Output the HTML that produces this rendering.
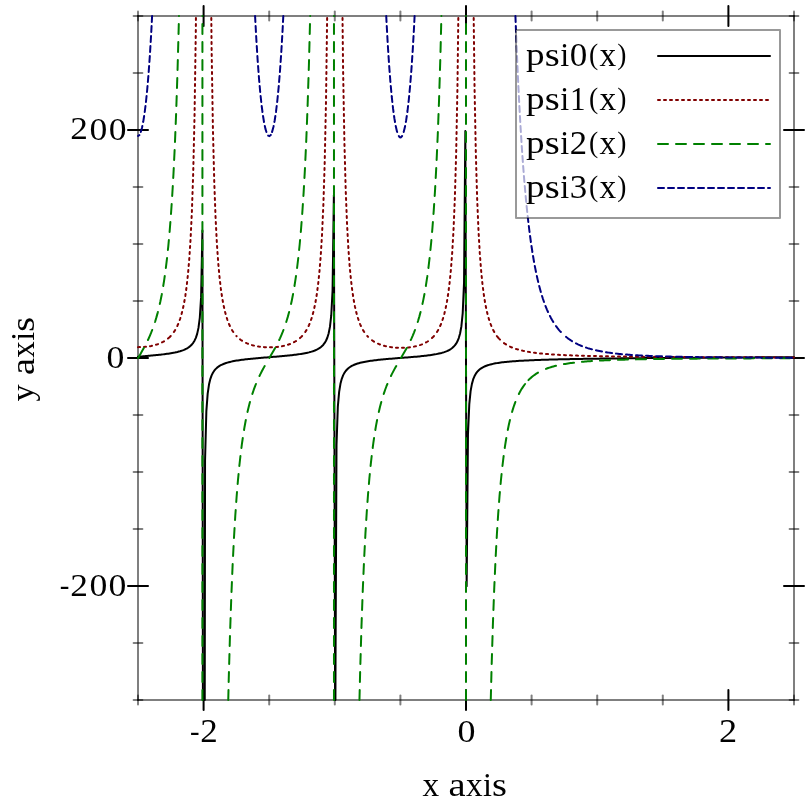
<!DOCTYPE html>
<html><head><meta charset="utf-8"><style>
html,body{margin:0;padding:0;background:#fff;}
svg{display:block;}
text{font-family:"Liberation Serif", serif;}
</style></head><body>
<svg width="812" height="812" viewBox="0 0 812 812">
<rect width="812" height="812" fill="#ffffff"/>
<g fill="none" stroke-width="2" stroke-linecap="round">
<line x1="138.0" y1="16.0" x2="794.0" y2="16.0" stroke="rgba(0,0,0,0.5)"/>
<line x1="138.0" y1="700.0" x2="794.0" y2="700.0" stroke="rgba(0,0,0,0.5)"/>
<line x1="138.0" y1="16.0" x2="138.0" y2="700.0" stroke="rgba(0,0,0,0.5)"/>
<line x1="794.0" y1="16.0" x2="794.0" y2="700.0" stroke="rgba(0,0,0,0.5)"/>
<line x1="138.00" y1="11.60" x2="138.00" y2="20.40" stroke="rgba(0,0,0,0.5)"/>
<line x1="138.00" y1="695.60" x2="138.00" y2="704.40" stroke="rgba(0,0,0,0.5)"/>
<line x1="269.20" y1="11.60" x2="269.20" y2="20.40" stroke="rgba(0,0,0,0.5)"/>
<line x1="269.20" y1="695.60" x2="269.20" y2="704.40" stroke="rgba(0,0,0,0.5)"/>
<line x1="334.80" y1="11.60" x2="334.80" y2="20.40" stroke="rgba(0,0,0,0.5)"/>
<line x1="334.80" y1="695.60" x2="334.80" y2="704.40" stroke="rgba(0,0,0,0.5)"/>
<line x1="400.40" y1="11.60" x2="400.40" y2="20.40" stroke="rgba(0,0,0,0.5)"/>
<line x1="400.40" y1="695.60" x2="400.40" y2="704.40" stroke="rgba(0,0,0,0.5)"/>
<line x1="531.60" y1="11.60" x2="531.60" y2="20.40" stroke="rgba(0,0,0,0.5)"/>
<line x1="531.60" y1="695.60" x2="531.60" y2="704.40" stroke="rgba(0,0,0,0.5)"/>
<line x1="597.20" y1="11.60" x2="597.20" y2="20.40" stroke="rgba(0,0,0,0.5)"/>
<line x1="597.20" y1="695.60" x2="597.20" y2="704.40" stroke="rgba(0,0,0,0.5)"/>
<line x1="662.80" y1="11.60" x2="662.80" y2="20.40" stroke="rgba(0,0,0,0.5)"/>
<line x1="662.80" y1="695.60" x2="662.80" y2="704.40" stroke="rgba(0,0,0,0.5)"/>
<line x1="794.00" y1="11.60" x2="794.00" y2="20.40" stroke="rgba(0,0,0,0.5)"/>
<line x1="794.00" y1="695.60" x2="794.00" y2="704.40" stroke="rgba(0,0,0,0.5)"/>
<line x1="133.60" y1="700.00" x2="142.40" y2="700.00" stroke="rgba(0,0,0,0.5)"/>
<line x1="789.60" y1="700.00" x2="798.40" y2="700.00" stroke="rgba(0,0,0,0.5)"/>
<line x1="133.60" y1="643.00" x2="142.40" y2="643.00" stroke="rgba(0,0,0,0.5)"/>
<line x1="789.60" y1="643.00" x2="798.40" y2="643.00" stroke="rgba(0,0,0,0.5)"/>
<line x1="133.60" y1="529.00" x2="142.40" y2="529.00" stroke="rgba(0,0,0,0.5)"/>
<line x1="789.60" y1="529.00" x2="798.40" y2="529.00" stroke="rgba(0,0,0,0.5)"/>
<line x1="133.60" y1="472.00" x2="142.40" y2="472.00" stroke="rgba(0,0,0,0.5)"/>
<line x1="789.60" y1="472.00" x2="798.40" y2="472.00" stroke="rgba(0,0,0,0.5)"/>
<line x1="133.60" y1="415.00" x2="142.40" y2="415.00" stroke="rgba(0,0,0,0.5)"/>
<line x1="789.60" y1="415.00" x2="798.40" y2="415.00" stroke="rgba(0,0,0,0.5)"/>
<line x1="133.60" y1="301.00" x2="142.40" y2="301.00" stroke="rgba(0,0,0,0.5)"/>
<line x1="789.60" y1="301.00" x2="798.40" y2="301.00" stroke="rgba(0,0,0,0.5)"/>
<line x1="133.60" y1="244.00" x2="142.40" y2="244.00" stroke="rgba(0,0,0,0.5)"/>
<line x1="789.60" y1="244.00" x2="798.40" y2="244.00" stroke="rgba(0,0,0,0.5)"/>
<line x1="133.60" y1="187.00" x2="142.40" y2="187.00" stroke="rgba(0,0,0,0.5)"/>
<line x1="789.60" y1="187.00" x2="798.40" y2="187.00" stroke="rgba(0,0,0,0.5)"/>
<line x1="133.60" y1="73.00" x2="142.40" y2="73.00" stroke="rgba(0,0,0,0.5)"/>
<line x1="789.60" y1="73.00" x2="798.40" y2="73.00" stroke="rgba(0,0,0,0.5)"/>
<line x1="133.60" y1="16.00" x2="142.40" y2="16.00" stroke="rgba(0,0,0,0.5)"/>
<line x1="789.60" y1="16.00" x2="798.40" y2="16.00" stroke="rgba(0,0,0,0.5)"/>
<line x1="203.60" y1="6.00" x2="203.60" y2="26.00" stroke="#000000"/>
<line x1="203.60" y1="690.00" x2="203.60" y2="710.00" stroke="#000000"/>
<line x1="466.00" y1="6.00" x2="466.00" y2="26.00" stroke="#000000"/>
<line x1="466.00" y1="690.00" x2="466.00" y2="710.00" stroke="#000000"/>
<line x1="728.40" y1="6.00" x2="728.40" y2="26.00" stroke="#000000"/>
<line x1="728.40" y1="690.00" x2="728.40" y2="710.00" stroke="#000000"/>
<line x1="128.00" y1="586.00" x2="148.00" y2="586.00" stroke="#000000"/>
<line x1="784.00" y1="586.00" x2="804.00" y2="586.00" stroke="#000000"/>
<line x1="128.00" y1="358.00" x2="148.00" y2="358.00" stroke="#000000"/>
<line x1="784.00" y1="358.00" x2="804.00" y2="358.00" stroke="#000000"/>
<line x1="128.00" y1="130.00" x2="148.00" y2="130.00" stroke="#000000"/>
<line x1="784.00" y1="130.00" x2="804.00" y2="130.00" stroke="#000000"/>
</g>
<g fill="none" stroke-width="2" stroke-linecap="round" stroke-linejoin="round">
<path d="M138.00 356.74 L139.31 356.63 L140.63 356.52 L141.94 356.41 L143.26 356.30 L144.57 356.19 L145.89 356.08 L147.20 355.97 L148.52 355.85 L149.83 355.73 L151.15 355.61 L152.46 355.49 L153.78 355.37 L155.09 355.24 L156.40 355.11 L157.72 354.97 L159.03 354.83 L160.35 354.69 L161.66 354.53 L162.98 354.38 L164.29 354.21 L165.61 354.04 L166.92 353.86 L168.24 353.67 L169.55 353.46 L170.87 353.25 L172.18 353.02 L173.49 352.77 L174.81 352.51 L176.12 352.22 L177.44 351.91 L178.75 351.57 L180.07 351.20 L181.38 350.79 L182.70 350.33 L184.01 349.82 L185.33 349.23 L186.64 348.56 L187.96 347.79 L189.27 346.87 L190.59 345.79 L191.90 344.46 L193.21 342.81 L194.53 340.69 L195.84 337.86 L197.16 333.89 L198.47 327.90 L199.79 317.81 L201.10 297.13 L202.42 230.56 L202.91 700.00" stroke="#000000"/>
<path d="M204.74 700.00 L205.05 460.34 L206.36 411.06 L207.68 393.55 L208.99 384.56 L210.30 379.09 L211.62 375.40 L212.93 372.74 L214.25 370.73 L215.56 369.15 L216.88 367.88 L218.19 366.83 L219.51 365.95 L220.82 365.20 L222.14 364.55 L223.45 363.98 L224.77 363.47 L226.08 363.03 L227.39 362.62 L228.71 362.26 L230.02 361.93 L231.34 361.62 L232.65 361.34 L233.97 361.08 L235.28 360.84 L236.60 360.61 L237.91 360.40 L239.23 360.20 L240.54 360.02 L241.86 359.84 L243.17 359.67 L244.48 359.50 L245.80 359.35 L247.11 359.20 L248.43 359.06 L249.74 358.92 L251.06 358.79 L252.37 358.66 L253.69 358.53 L255.00 358.41 L256.32 358.29 L257.63 358.17 L258.95 358.05 L260.26 357.94 L261.58 357.83 L262.89 357.72 L264.20 357.61 L265.52 357.50 L266.83 357.39 L268.15 357.28 L269.46 357.18 L270.78 357.07 L272.09 356.96 L273.41 356.85 L274.72 356.75 L276.04 356.64 L277.35 356.53 L278.67 356.41 L279.98 356.30 L281.29 356.18 L282.61 356.07 L283.92 355.95 L285.24 355.82 L286.55 355.69 L287.87 355.56 L289.18 355.43 L290.50 355.29 L291.81 355.15 L293.13 354.99 L294.44 354.84 L295.76 354.67 L297.07 354.50 L298.38 354.32 L299.70 354.13 L301.01 353.93 L302.33 353.71 L303.64 353.48 L304.96 353.23 L306.27 352.97 L307.59 352.68 L308.90 352.37 L310.22 352.02 L311.53 351.65 L312.85 351.23 L314.16 350.76 L315.47 350.24 L316.79 349.64 L318.10 348.95 L319.42 348.15 L320.73 347.21 L322.05 346.09 L323.36 344.71 L324.68 342.98 L325.99 340.74 L327.31 337.73 L328.62 333.45 L329.94 326.88 L331.25 315.46 L332.57 290.64 L333.88 195.01 L335.11 700.00" stroke="#000000"/>
<path d="M335.36 700.00 L336.51 445.00 L337.82 406.91 L339.14 391.89 L340.45 383.85 L341.77 378.82 L343.08 375.39 L344.40 372.88 L345.71 370.97 L347.03 369.47 L348.34 368.25 L349.66 367.24 L350.97 366.40 L352.28 365.67 L353.60 365.04 L354.91 364.49 L356.23 364.00 L357.54 363.57 L358.86 363.17 L360.17 362.82 L361.49 362.50 L362.80 362.20 L364.12 361.93 L365.43 361.68 L366.75 361.44 L368.06 361.22 L369.37 361.02 L370.69 360.83 L372.00 360.64 L373.32 360.47 L374.63 360.31 L375.95 360.15 L377.26 360.00 L378.58 359.86 L379.89 359.72 L381.21 359.58 L382.52 359.46 L383.84 359.33 L385.15 359.21 L386.46 359.09 L387.78 358.98 L389.09 358.86 L390.41 358.75 L391.72 358.64 L393.04 358.54 L394.35 358.43 L395.67 358.33 L396.98 358.22 L398.30 358.12 L399.61 358.02 L400.93 357.92 L402.24 357.82 L403.56 357.71 L404.87 357.61 L406.18 357.51 L407.50 357.40 L408.81 357.30 L410.13 357.19 L411.44 357.08 L412.76 356.97 L414.07 356.86 L415.39 356.74 L416.70 356.63 L418.02 356.50 L419.33 356.38 L420.65 356.25 L421.96 356.11 L423.27 355.98 L424.59 355.83 L425.90 355.68 L427.22 355.52 L428.53 355.35 L429.85 355.18 L431.16 354.99 L432.48 354.79 L433.79 354.58 L435.11 354.36 L436.42 354.11 L437.74 353.85 L439.05 353.56 L440.36 353.25 L441.68 352.91 L442.99 352.54 L444.31 352.12 L445.62 351.65 L446.94 351.12 L448.25 350.51 L449.57 349.82 L450.88 349.00 L452.20 348.04 L453.51 346.87 L454.83 345.44 L456.14 343.64 L457.45 341.28 L458.77 338.08 L460.08 333.46 L461.40 326.22 L462.71 313.20 L464.03 282.84 L465.34 131.12 L466.66 586.19 L467.97 434.48 L469.29 404.12 L470.60 391.10 L471.92 383.86 L473.23 379.24 L474.55 376.04 L475.86 373.69 L477.17 371.89 L478.49 370.47 L479.80 369.31 L481.12 368.35 L482.43 367.54 L483.75 366.85 L485.06 366.26 L486.38 365.74 L487.69 365.28 L489.01 364.87 L490.32 364.50 L491.64 364.17 L492.95 363.87 L494.26 363.60 L495.58 363.35 L496.89 363.12 L498.21 362.91 L499.52 362.71 L500.84 362.53 L502.15 362.36 L503.47 362.20 L504.78 362.06 L506.10 361.92 L507.41 361.78 L508.73 361.66 L510.04 361.54 L511.35 361.43 L512.67 361.33 L513.98 361.23 L515.30 361.13 L516.61 361.04 L517.93 360.96 L519.24 360.87 L520.56 360.79 L521.87 360.72 L523.19 360.64 L524.50 360.57 L525.82 360.51 L527.13 360.44 L528.44 360.38 L529.76 360.32 L531.07 360.26 L532.39 360.20 L533.70 360.15 L535.02 360.10 L536.33 360.05 L537.65 360.00 L538.96 359.95 L540.28 359.90 L541.59 359.86 L542.91 359.81 L544.22 359.77 L545.54 359.73 L546.85 359.69 L548.16 359.65 L549.48 359.61 L550.79 359.58 L552.11 359.54 L553.42 359.50 L554.74 359.47 L556.05 359.44 L557.37 359.40 L558.68 359.37 L560.00 359.34 L561.31 359.31 L562.63 359.28 L563.94 359.25 L565.25 359.22 L566.57 359.19 L567.88 359.16 L569.20 359.14 L570.51 359.11 L571.83 359.08 L573.14 359.06 L574.46 359.03 L575.77 359.01 L577.09 358.98 L578.40 358.96 L579.72 358.94 L581.03 358.91 L582.34 358.89 L583.66 358.87 L584.97 358.85 L586.29 358.82 L587.60 358.80 L588.92 358.78 L590.23 358.76 L591.55 358.74 L592.86 358.72 L594.18 358.70 L595.49 358.68 L596.81 358.66 L598.12 358.64 L599.43 358.63 L600.75 358.61 L602.06 358.59 L603.38 358.57 L604.69 358.56 L606.01 358.54 L607.32 358.52 L608.64 358.50 L609.95 358.49 L611.27 358.47 L612.58 358.46 L613.90 358.44 L615.21 358.42 L616.53 358.41 L617.84 358.39 L619.15 358.38 L620.47 358.36 L621.78 358.35 L623.10 358.33 L624.41 358.32 L625.73 358.30 L627.04 358.29 L628.36 358.28 L629.67 358.26 L630.99 358.25 L632.30 358.24 L633.62 358.22 L634.93 358.21 L636.24 358.20 L637.56 358.18 L638.87 358.17 L640.19 358.16 L641.50 358.15 L642.82 358.13 L644.13 358.12 L645.45 358.11 L646.76 358.10 L648.08 358.08 L649.39 358.07 L650.71 358.06 L652.02 358.05 L653.33 358.04 L654.65 358.03 L655.96 358.02 L657.28 358.00 L658.59 357.99 L659.91 357.98 L661.22 357.97 L662.54 357.96 L663.85 357.95 L665.17 357.94 L666.48 357.93 L667.80 357.92 L669.11 357.91 L670.42 357.90 L671.74 357.89 L673.05 357.88 L674.37 357.87 L675.68 357.86 L677.00 357.85 L678.31 357.84 L679.63 357.83 L680.94 357.82 L682.26 357.81 L683.57 357.80 L684.89 357.79 L686.20 357.78 L687.52 357.77 L688.83 357.76 L690.14 357.75 L691.46 357.75 L692.77 357.74 L694.09 357.73 L695.40 357.72 L696.72 357.71 L698.03 357.70 L699.35 357.69 L700.66 357.68 L701.98 357.68 L703.29 357.67 L704.61 357.66 L705.92 357.65 L707.23 357.64 L708.55 357.63 L709.86 357.63 L711.18 357.62 L712.49 357.61 L713.81 357.60 L715.12 357.59 L716.44 357.59 L717.75 357.58 L719.07 357.57 L720.38 357.56 L721.70 357.56 L723.01 357.55 L724.32 357.54 L725.64 357.53 L726.95 357.53 L728.27 357.52 L729.58 357.51 L730.90 357.50 L732.21 357.50 L733.53 357.49 L734.84 357.48 L736.16 357.48 L737.47 357.47 L738.79 357.46 L740.10 357.45 L741.41 357.45 L742.73 357.44 L744.04 357.43 L745.36 357.43 L746.67 357.42 L747.99 357.41 L749.30 357.41 L750.62 357.40 L751.93 357.39 L753.25 357.39 L754.56 357.38 L755.88 357.37 L757.19 357.37 L758.51 357.36 L759.82 357.35 L761.13 357.35 L762.45 357.34 L763.76 357.33 L765.08 357.33 L766.39 357.32 L767.71 357.32 L769.02 357.31 L770.34 357.30 L771.65 357.30 L772.97 357.29 L774.28 357.29 L775.60 357.28 L776.91 357.27 L778.22 357.27 L779.54 357.26 L780.85 357.26 L782.17 357.25 L783.48 357.24 L784.80 357.24 L786.11 357.23 L787.43 357.23 L788.74 357.22 L790.06 357.22 L791.37 357.21 L792.69 357.20 L794.00 357.20" stroke="#000000"/>
<path d="M138.00 347.13 L139.31 347.12 L140.00 347.10 M144.00 346.89 L144.57 346.85 L145.89 346.72 L146.00 346.71 M150.00 346.15 L151.15 345.95 L152.00 345.77 M156.00 344.76 L156.40 344.64 L157.72 344.21 L158.00 344.11 M162.00 342.42 L162.98 341.93 L164.00 341.35 M168.00 338.55 L168.24 338.36 L169.55 337.18 L170.71 336.00 M173.88 332.00 L174.81 330.60 L175.16 330.00 M177.28 326.00 L177.44 325.68 L178.16 324.00 M179.70 320.00 L180.07 318.98 L180.37 318.00 M181.56 314.00 L182.07 312.00 M183.03 308.00 L183.45 306.00 M184.25 302.00 L184.59 300.00 M185.29 296.00 L185.33 295.76 L185.57 294.00 M186.13 290.00 L186.41 288.00 M186.90 284.00 L187.12 282.00 M187.56 278.00 L187.78 276.00 M188.16 272.00 L188.33 270.00 M188.67 266.00 L188.84 264.00 M189.19 260.00 L189.27 259.02 L189.34 258.00 M189.60 254.00 L189.73 252.00 M189.99 248.00 L190.12 246.00 M190.37 242.00 L190.50 240.00 M190.72 236.00 L190.81 234.00 M191.00 230.00 L191.10 228.00 M191.29 224.00 L191.39 222.00 M191.58 218.00 L191.67 216.00 M191.87 212.00 L191.90 211.28 L191.94 210.00 M192.08 206.00 L192.15 204.00 M192.28 200.00 L192.35 198.00 M192.49 194.00 L192.56 192.00 M192.69 188.00 L192.76 186.00 M192.90 182.00 L192.97 180.00 M193.10 176.00 L193.17 174.00 M193.28 170.00 L193.32 168.00 M193.42 164.00 L193.46 162.00 M193.56 158.00 L193.60 156.00 M193.70 152.00 L193.74 150.00 M193.84 146.00 L193.88 144.00 M193.97 140.00 L194.02 138.00 M194.11 134.00 L194.16 132.00 M194.25 128.00 L194.30 126.00 M194.39 122.00 L194.44 120.00 M194.53 116.00 L194.56 114.00 M194.62 110.00 L194.65 108.00 M194.71 104.00 L194.74 102.00 M194.80 98.00 L194.83 96.00 M194.89 92.00 L194.92 90.00 M194.98 86.00 L195.01 84.00 M195.07 80.00 L195.10 78.00 M195.16 74.00 L195.19 72.00 M195.25 68.00 L195.28 66.00 M195.34 62.00 L195.37 60.00 M195.43 56.00 L195.46 54.00 M195.52 50.00 L195.55 48.00 M195.61 44.00 L195.64 42.00 M195.70 38.00 L195.73 36.00 M195.79 32.00 L195.82 30.00 M195.87 26.00 L195.88 24.00 M195.92 20.00 L195.94 18.00 M211.30 18.00 L211.32 20.00 M211.36 24.00 L211.38 26.00 M211.42 30.00 L211.44 32.00 M211.48 36.00 L211.50 38.00 M211.54 42.00 L211.56 44.00 M211.60 48.00 L211.62 49.54 L211.63 50.00 M211.69 54.00 L211.73 56.00 M211.79 60.00 L211.82 62.00 M211.89 66.00 L211.92 68.00 M211.99 72.00 L212.02 74.00 M212.09 78.00 L212.12 80.00 M212.19 84.00 L212.22 86.00 M212.29 90.00 L212.32 92.00 M212.38 96.00 L212.42 98.00 M212.48 102.00 L212.52 104.00 M212.58 108.00 L212.61 110.00 M212.68 114.00 L212.71 116.00 M212.78 120.00 L212.81 122.00 M212.88 126.00 L212.91 128.00 M213.00 132.00 L213.05 134.00 M213.15 138.00 L213.20 140.00 M213.30 144.00 L213.35 146.00 M213.45 150.00 L213.50 152.00 M213.60 156.00 L213.65 158.00 M213.75 162.00 L213.80 164.00 M213.91 168.00 L213.96 170.00 M214.06 174.00 L214.11 176.00 M214.21 180.00 L214.25 181.61 L214.26 182.00 M214.41 186.00 L214.48 188.00 M214.63 192.00 L214.70 194.00 M214.85 198.00 L214.92 200.00 M215.07 204.00 L215.14 206.00 M215.29 210.00 L215.36 212.00 M215.51 216.00 L215.56 217.54 L215.59 218.00 M215.79 222.00 L215.89 224.00 M216.10 228.00 L216.20 230.00 M216.40 234.00 L216.50 236.00 M216.71 240.00 L216.81 242.00 M217.06 246.00 L217.20 248.00 M217.47 252.00 L217.61 254.00 M217.89 258.00 L218.02 260.00 M218.33 264.00 L218.51 266.00 M218.87 270.00 L219.05 272.00 M219.41 276.00 L219.51 277.06 L219.62 278.00 M220.08 282.00 L220.31 284.00 M220.77 288.00 L220.82 288.43 L221.05 290.00 M221.63 294.00 L221.92 296.00 M222.59 300.00 L222.95 302.00 M223.73 306.00 L224.17 308.00 M225.10 312.00 L225.64 314.00 M226.82 318.00 L227.39 319.82 L227.46 320.00 M229.01 324.00 L229.89 326.00 M232.00 330.00 L232.65 331.10 L233.26 332.00 M236.41 336.00 L236.60 336.21 M240.00 339.28 L240.54 339.71 L241.86 340.62 L242.00 340.71 M246.00 342.92 L247.11 343.42 L248.00 343.78 M252.00 345.12 L252.37 345.23 L253.69 345.57 L254.00 345.64 M258.00 346.43 L258.95 346.58 L260.00 346.72 M264.00 347.12 L264.20 347.14 L265.52 347.21 L266.00 347.23 M270.00 347.30 L270.78 347.29 L272.00 347.26 M276.00 347.02 L276.04 347.02 L277.35 346.89 L278.00 346.81 M282.00 346.20 L282.61 346.09 L283.92 345.82 L284.00 345.80 M288.00 344.72 L289.18 344.32 L290.00 344.02 M294.00 342.23 L294.44 342.00 L295.76 341.24 L296.00 341.08 M300.00 338.08 L301.01 337.14 L302.11 336.00 M305.24 332.00 L306.27 330.41 L306.50 330.00 M308.58 326.00 L308.90 325.34 L309.46 324.00 M310.98 320.00 L311.53 318.42 L311.66 318.00 M312.84 314.00 L312.85 313.99 L313.34 312.00 M314.30 308.00 L314.70 306.00 M315.51 302.00 L315.84 300.00 M316.51 296.00 L316.79 294.29 L316.83 294.00 M317.36 290.00 L317.63 288.00 M318.15 284.00 L318.36 282.00 M318.78 278.00 L318.99 276.00 M319.41 272.00 L319.42 271.88 L319.57 270.00 M319.90 266.00 L320.06 264.00 M320.38 260.00 L320.55 258.00 M320.84 254.00 L320.96 252.00 M321.20 248.00 L321.33 246.00 M321.57 242.00 L321.69 240.00 M321.94 236.00 L322.05 234.20 L322.06 234.00 M322.24 230.00 L322.33 228.00 M322.51 224.00 L322.59 222.00 M322.77 218.00 L322.86 216.00 M323.04 212.00 L323.13 210.00 M323.31 206.00 L323.36 204.88 L323.39 204.00 M323.52 200.00 L323.58 198.00 M323.71 194.00 L323.77 192.00 M323.90 188.00 L323.96 186.00 M324.09 182.00 L324.15 180.00 M324.28 176.00 L324.34 174.00 M324.47 170.00 L324.53 168.00 M324.66 164.00 L324.68 163.40 L324.71 162.00 M324.79 158.00 L324.84 156.00 M324.92 152.00 L324.96 150.00 M325.05 146.00 L325.09 144.00 M325.18 140.00 L325.22 138.00 M325.31 134.00 L325.35 132.00 M325.44 128.00 L325.48 126.00 M325.56 122.00 L325.61 120.00 M325.69 116.00 L325.73 114.00 M325.82 110.00 L325.86 108.00 M325.95 104.00 L325.99 102.00 M326.05 98.00 L326.07 96.00 M326.13 92.00 L326.16 90.00 M326.21 86.00 L326.24 84.00 M326.29 80.00 L326.32 78.00 M326.37 74.00 L326.40 72.00 M326.45 68.00 L326.48 66.00 M326.54 62.00 L326.56 60.00 M326.62 56.00 L326.65 54.00 M326.70 50.00 L326.73 48.00 M326.78 44.00 L326.81 42.00 M326.86 38.00 L326.89 36.00 M326.95 32.00 L326.97 30.00 M327.03 26.00 L327.05 24.00 M327.11 20.00 L327.14 18.00 M342.52 18.00 L342.54 20.00 M342.58 24.00 L342.60 26.00 M342.65 30.00 L342.67 32.00 M342.72 36.00 L342.74 38.00 M342.78 42.00 L342.80 44.00 M342.85 48.00 L342.87 50.00 M342.92 54.00 L342.94 56.00 M342.98 60.00 L343.01 62.00 M343.05 66.00 L343.07 68.00 M343.14 72.00 L343.17 74.00 M343.25 78.00 L343.28 80.00 M343.35 84.00 L343.39 86.00 M343.46 90.00 L343.50 92.00 M343.57 96.00 L343.61 98.00 M343.68 102.00 L343.71 104.00 M343.79 108.00 L343.82 110.00 M343.89 114.00 L343.93 116.00 M344.00 120.00 L344.04 122.00 M344.11 126.00 L344.15 128.00 M344.22 132.00 L344.25 134.00 M344.33 138.00 L344.36 140.00 M344.45 144.00 L344.51 146.00 M344.62 150.00 L344.67 152.00 M344.78 156.00 L344.84 158.00 M344.94 162.00 L345.00 164.00 M345.11 168.00 L345.16 170.00 M345.27 174.00 L345.33 176.00 M345.43 180.00 L345.49 182.00 M345.60 186.00 L345.65 188.00 M345.78 192.00 L345.86 194.00 M346.02 198.00 L346.10 200.00 M346.25 204.00 L346.33 206.00 M346.49 210.00 L346.57 212.00 M346.72 216.00 L346.80 218.00 M346.96 222.00 L347.03 223.68 L347.04 224.00 M347.26 228.00 L347.37 230.00 M347.59 234.00 L347.69 236.00 M347.91 240.00 L348.02 242.00 M348.24 246.00 L348.34 247.93 L348.35 248.00 M348.64 252.00 L348.78 254.00 M349.07 258.00 L349.22 260.00 M349.51 264.00 L349.65 266.00 M350.03 270.00 L350.22 272.00 M350.60 276.00 L350.79 278.00 M351.23 282.00 L351.47 284.00 M351.95 288.00 L352.20 290.00 M352.78 294.00 L353.09 296.00 M353.72 300.00 L354.09 302.00 M354.84 306.00 L354.91 306.38 L355.28 308.00 M356.20 312.00 L356.23 312.13 L356.74 314.00 M357.90 318.00 L358.56 320.00 M360.05 324.00 L360.17 324.31 L360.94 326.00 M362.98 330.00 L364.12 331.87 L364.21 332.00 M367.29 336.00 L368.06 336.86 M372.00 340.28 L372.00 340.29 L373.32 341.19 L374.00 341.61 M378.00 343.69 L378.58 343.94 L379.89 344.47 L380.00 344.51 M384.00 345.78 L385.15 346.07 L386.00 346.26 M390.00 347.01 L390.41 347.08 L391.72 347.26 L392.00 347.29 M396.00 347.66 L396.98 347.71 L398.00 347.76 M402.00 347.81 L402.24 347.81 L403.56 347.77 L404.00 347.75 M408.00 347.49 L408.81 347.41 L410.00 347.27 M414.00 346.64 L414.07 346.62 L415.39 346.35 L416.00 346.21 M420.00 345.08 L420.65 344.86 L421.96 344.37 L422.00 344.35 M426.00 342.47 L427.22 341.75 L428.00 341.24 M432.00 338.05 L432.48 337.61 L433.79 336.21 L433.97 336.00 M436.94 332.00 L437.74 330.74 L438.14 330.00 M440.15 326.00 L440.36 325.54 L440.99 324.00 M442.46 320.00 L442.99 318.42 L443.12 318.00 M444.26 314.00 L444.31 313.84 L444.75 312.00 M445.69 308.00 L446.08 306.00 M446.86 302.00 L446.94 301.63 L447.20 300.00 M447.83 296.00 L448.15 294.00 M448.68 290.00 L448.94 288.00 M449.45 284.00 L449.57 283.04 L449.67 282.00 M450.07 278.00 L450.27 276.00 M450.67 272.00 L450.87 270.00 M451.18 266.00 L451.34 264.00 M451.64 260.00 L451.80 258.00 M452.10 254.00 L452.20 252.80 L452.24 252.00 M452.47 248.00 L452.59 246.00 M452.82 242.00 L452.93 240.00 M453.17 236.00 L453.28 234.00 M453.51 230.00 L453.60 228.00 M453.76 224.00 L453.85 222.00 M454.02 218.00 L454.10 216.00 M454.27 212.00 L454.35 210.00 M454.52 206.00 L454.60 204.00 M454.77 200.00 L454.83 198.71 L454.85 198.00 M454.96 194.00 L455.02 192.00 M455.14 188.00 L455.20 186.00 M455.32 182.00 L455.38 180.00 M455.49 176.00 L455.55 174.00 M455.67 170.00 L455.73 168.00 M455.85 164.00 L455.91 162.00 M456.02 158.00 L456.08 156.00 M456.18 152.00 L456.22 150.00 M456.30 146.00 L456.34 144.00 M456.42 140.00 L456.46 138.00 M456.53 134.00 L456.57 132.00 M456.65 128.00 L456.69 126.00 M456.77 122.00 L456.81 120.00 M456.89 116.00 L456.93 114.00 M457.01 110.00 L457.05 108.00 M457.12 104.00 L457.16 102.00 M457.24 98.00 L457.28 96.00 M457.36 92.00 L457.40 90.00 M457.47 86.00 L457.49 84.00 M457.54 80.00 L457.57 78.00 M457.62 74.00 L457.64 72.00 M457.69 68.00 L457.72 66.00 M457.77 62.00 L457.79 60.00 M457.84 56.00 L457.86 54.00 M457.91 50.00 L457.94 48.00 M457.99 44.00 L458.01 42.00 M458.06 38.00 L458.09 36.00 M458.14 32.00 L458.16 30.00 M458.21 26.00 L458.23 24.00 M458.28 20.00 L458.31 18.00 M473.69 18.00 L473.71 20.00 M473.76 24.00 L473.79 26.00 M473.84 30.00 L473.86 32.00 M473.91 36.00 L473.93 38.00 M473.98 42.00 L474.01 44.00 M474.06 48.00 L474.08 50.00 M474.13 54.00 L474.16 56.00 M474.21 60.00 L474.23 62.00 M474.28 66.00 L474.30 68.00 M474.35 72.00 L474.38 74.00 M474.43 78.00 L474.45 80.00 M474.50 84.00 L474.53 86.00 M474.59 90.00 L474.63 92.00 M474.71 96.00 L474.75 98.00 M474.83 102.00 L474.87 104.00 M474.95 108.00 L474.99 110.00 M475.06 114.00 L475.10 116.00 M475.18 120.00 L475.22 122.00 M475.30 126.00 L475.34 128.00 M475.42 132.00 L475.46 134.00 M475.54 138.00 L475.58 140.00 M475.65 144.00 L475.69 146.00 M475.77 150.00 L475.81 152.00 M475.91 156.00 L475.96 158.00 M476.08 162.00 L476.14 164.00 M476.26 168.00 L476.32 170.00 M476.43 174.00 L476.49 176.00 M476.61 180.00 L476.67 182.00 M476.79 186.00 L476.85 188.00 M476.96 192.00 L477.02 194.00 M477.14 198.00 L477.17 199.18 L477.21 200.00 M477.38 204.00 L477.46 206.00 M477.63 210.00 L477.71 212.00 M477.88 216.00 L477.96 218.00 M478.13 222.00 L478.21 224.00 M478.38 228.00 L478.47 230.00 M478.69 234.00 L478.80 236.00 M479.03 240.00 L479.15 242.00 M479.38 246.00 L479.49 248.00 M479.72 252.00 L479.80 253.39 L479.85 254.00 M480.16 258.00 L480.31 260.00 M480.62 264.00 L480.77 266.00 M481.08 270.00 L481.12 270.54 L481.26 272.00 M481.66 276.00 L481.86 278.00 M482.26 282.00 L482.43 283.75 L482.46 284.00 M482.97 288.00 L483.22 290.00 M483.73 294.00 L483.75 294.14 L484.04 296.00 M484.67 300.00 L484.99 302.00 M485.75 306.00 L486.14 308.00 M487.03 312.00 L487.51 314.00 M488.60 318.00 L489.01 319.44 L489.20 320.00 M490.58 324.00 L491.36 326.00 M493.19 330.00 L494.26 332.00 M496.86 336.00 L496.89 336.05 L498.21 337.71 L498.47 338.00 M499.52 339.18 L500.00 339.66 M504.00 343.09 L504.78 343.65 L506.00 344.45 M510.00 346.62 L510.04 346.64 L511.35 347.23 L512.00 347.49 M516.00 348.96 L516.61 349.15 L517.93 349.55 L518.00 349.57 M522.00 350.60 L523.19 350.87 L524.00 351.04 M528.00 351.80 L528.44 351.88 L529.76 352.09 L530.00 352.13 M534.00 352.71 L535.02 352.84 L536.00 352.96 M540.00 353.41 L540.28 353.44 L541.59 353.57 L542.00 353.61 M546.00 353.96 L546.85 354.03 L548.00 354.12 M552.00 354.41 L552.11 354.42 L553.42 354.50 L554.00 354.54 M558.00 354.78 L558.68 354.82 L560.00 354.89 L560.00 354.89 M564.00 355.08 L565.25 355.14 L566.00 355.17 M570.00 355.34 L570.51 355.36 L571.83 355.41 L572.00 355.42 M576.00 355.56 L577.09 355.60 L578.00 355.63 M582.00 355.75 L582.34 355.76 L583.66 355.80 L584.00 355.81 M588.00 355.91 L588.92 355.94 L590.00 355.96 M594.00 356.06 L594.18 356.06 L595.49 356.09 L596.00 356.10 M600.00 356.18 L600.75 356.20 L602.00 356.22 M606.00 356.29 L606.01 356.29 L607.32 356.32 L608.00 356.33 M612.00 356.39 L612.58 356.40 L613.90 356.42 L614.00 356.42 M618.00 356.48 L619.15 356.50 L620.00 356.51 M624.00 356.56 L624.41 356.57 L625.73 356.58 L626.00 356.59 M630.00 356.64 L630.99 356.65 L632.00 356.66 M636.00 356.70 L636.24 356.70 L637.56 356.72 L638.00 356.72 M642.00 356.76 L642.82 356.77 L644.00 356.78 M648.00 356.82 L648.08 356.82 L649.39 356.83 L650.00 356.83 M654.00 356.87 L654.65 356.87 L655.96 356.88 L656.00 356.88 M660.00 356.91 L661.22 356.92 L662.00 356.93 M666.00 356.96 L666.48 356.96 L667.80 356.97 L668.00 356.97 M672.00 357.00 L673.05 357.00 L674.00 357.01 M678.00 357.03 L678.31 357.04 L679.63 357.04 L680.00 357.05 M684.00 357.07 L684.89 357.07 L686.00 357.08 M690.00 357.10 L690.14 357.10 L691.46 357.11 L692.00 357.11 M696.00 357.13 L696.72 357.13 L698.00 357.14 M702.00 357.16 L703.29 357.16 L704.00 357.17 M708.00 357.19 L708.55 357.19 L709.86 357.19 L710.00 357.19 M714.00 357.21 L715.12 357.22 L716.00 357.22 M720.00 357.23 L720.38 357.24 L721.70 357.24 L722.00 357.24 M726.00 357.26 L726.95 357.26 L728.00 357.26 M732.00 357.28 L732.21 357.28 L733.53 357.28 L734.00 357.28 M738.00 357.30 L738.79 357.30 L740.00 357.30 M744.00 357.32 L744.04 357.32 L745.36 357.32 L746.00 357.32 M750.00 357.33 L750.62 357.34 L751.93 357.34 L752.00 357.34 M756.00 357.35 L757.19 357.35 L758.00 357.36 M762.00 357.37 L762.45 357.37 L763.76 357.37 L764.00 357.37 M768.00 357.38 L769.02 357.38 L770.00 357.39 M774.00 357.40 L774.28 357.40 L775.60 357.40 L776.00 357.40 M780.00 357.41 L780.85 357.41 L782.00 357.42 M786.00 357.42 L786.11 357.42 L787.43 357.43 L788.00 357.43 M792.00 357.44 L792.69 357.44 L794.00 357.44" stroke="#800000"/>
<path d="M138.07 358.00 L139.31 355.90 L140.63 353.65 L141.94 351.37 L143.26 349.03 L143.82 348.00 M147.92 340.00 L148.52 338.74 L149.83 335.80 L151.15 332.67 L152.19 330.00 M154.99 322.00 L155.09 321.71 L156.40 317.38 L157.72 312.61 L157.87 312.00 M159.79 304.00 L160.35 301.50 L161.66 294.96 L161.83 294.00 M163.23 286.00 L164.29 279.31 L164.75 276.00 M165.84 268.00 L166.92 259.13 L167.04 258.00 M167.89 250.00 L168.24 246.77 L168.86 240.00 M169.59 232.00 L170.38 222.00 M170.99 214.00 L171.67 204.00 M172.20 196.00 L172.78 186.00 M173.23 178.00 L173.49 173.45 L173.76 168.00 M174.14 160.00 L174.63 150.00 M174.98 142.00 L175.38 132.00 M175.70 124.00 L176.10 114.00 M176.37 106.00 L176.70 96.00 M176.97 88.00 L177.30 78.00 M177.55 70.00 L177.82 60.00 M178.04 52.00 L178.31 42.00 M178.53 34.00 L178.75 25.60 L178.79 24.00 M178.97 16.00 L178.97 16.00 M202.42 16.00 L202.42 16.00 M202.42 24.00 L202.42 34.00 M202.42 42.00 L202.42 52.00 M202.42 60.00 L202.42 70.00 M202.42 78.00 L202.42 88.00 M202.42 96.00 L202.42 106.00 M202.42 114.00 L202.42 124.00 M202.42 132.00 L202.42 142.00 M202.42 150.00 L202.42 160.00 M202.42 168.00 L202.42 178.00 M202.42 186.00 L202.42 196.00 M202.42 204.00 L202.42 214.00 M202.42 222.00 L202.42 232.00 M202.42 240.00 L202.42 250.00 M202.42 258.00 L202.42 268.00 M202.42 276.00 L202.42 286.00 M202.42 294.00 L202.42 304.00 M202.42 312.00 L202.42 322.00 M202.42 330.00 L202.42 340.00 M202.42 348.00 L202.42 358.00 M202.42 366.00 L202.42 376.00 M202.42 384.00 L202.42 394.00 M202.42 402.00 L202.42 412.00 M202.42 420.00 L202.42 430.00 M202.42 438.00 L202.42 448.00 M202.42 456.00 L202.42 466.00 M202.42 474.00 L202.42 484.00 M202.42 492.00 L202.42 502.00 M202.42 510.00 L202.42 520.00 M202.42 528.00 L202.42 538.00 M202.42 546.00 L202.42 556.00 M202.42 564.00 L202.42 574.00 M202.42 582.00 L202.42 592.00 M202.42 600.00 L202.42 610.00 M202.42 618.00 L202.42 628.00 M202.42 636.00 L202.42 646.00 M202.42 654.00 L202.42 664.00 M202.42 672.00 L202.42 682.00 M202.42 690.00 L202.42 700.00 M228.26 700.00 L228.49 690.00 M228.67 682.00 L228.71 680.28 L228.94 672.00 M229.17 664.00 L229.45 654.00 M229.68 646.00 L229.96 636.00 M230.23 628.00 L230.57 618.00 M230.85 610.00 L231.20 600.00 M231.50 592.00 L231.92 582.00 M232.25 574.00 L232.65 564.34 L232.67 564.00 M233.07 556.00 L233.57 546.00 M233.97 538.00 L234.56 528.00 M235.03 520.00 L235.28 515.81 L235.69 510.00 M236.25 502.00 L236.60 496.96 L237.00 492.00 M237.65 484.00 L237.91 480.85 L238.56 474.00 M239.33 466.00 L240.43 456.00 M241.42 448.00 L241.86 444.49 L242.78 438.00 M244.03 430.00 L244.48 427.21 L245.80 420.04 L245.81 420.00 M247.49 412.00 L248.43 407.92 L249.74 402.77 L249.96 402.00 M252.33 394.00 L252.37 393.85 L253.69 389.96 L255.00 386.38 L255.94 384.00 M259.46 376.00 L260.26 374.35 L261.58 371.75 L262.89 369.27 L264.20 366.88 L264.70 366.00 M269.36 358.00 L269.46 357.82 L270.78 355.60 L272.09 353.35 L273.41 351.06 L274.72 348.71 L275.11 348.00 M279.19 340.00 L279.98 338.33 L281.29 335.36 L282.61 332.18 L283.45 330.00 M286.24 322.00 L286.55 321.04 L287.87 316.63 L289.12 312.00 M291.03 304.00 L291.81 300.43 L293.08 294.00 M294.47 286.00 L295.76 277.71 L295.99 276.00 M297.08 268.00 L298.26 258.00 M299.11 250.00 L299.70 244.27 L300.08 240.00 M300.80 232.00 L301.01 229.56 L301.59 222.00 M302.21 214.00 L302.33 212.42 L302.88 204.00 M303.40 196.00 L303.64 192.32 L303.99 186.00 M304.44 178.00 L304.96 168.58 L304.98 168.00 M305.36 160.00 L305.82 150.00 M306.19 142.00 L306.27 140.31 L306.59 132.00 M306.90 124.00 L307.29 114.00 M307.60 106.00 L307.92 96.00 M308.17 88.00 L308.49 78.00 M308.75 70.00 L308.90 65.24 L309.04 60.00 M309.25 52.00 L309.51 42.00 M309.72 34.00 L309.98 24.00 M310.19 16.00 L310.19 16.00 M333.98 16.00 L333.98 16.00 M333.98 24.00 L333.98 34.00 M333.98 42.00 L333.98 52.00 M333.98 60.00 L333.98 70.00 M333.98 78.00 L333.98 88.00 M333.98 96.00 L333.98 106.00 M333.98 114.00 L333.98 124.00 M333.98 132.00 L333.98 142.00 M333.98 150.00 L333.98 160.00 M333.98 168.00 L333.98 178.00 M333.98 186.00 L333.98 196.00 M333.98 204.00 L333.98 214.00 M333.98 222.00 L333.98 232.00 M333.98 240.00 L333.98 250.00 M333.98 258.00 L333.98 268.00 M333.98 276.00 L333.98 286.00 M333.98 294.00 L333.98 304.00 M333.98 312.00 L333.98 322.00 M333.98 330.00 L333.98 340.00 M333.98 348.00 L333.98 358.00 M333.98 366.00 L333.98 376.00 M333.98 384.00 L333.98 394.00 M333.98 402.00 L333.98 412.00 M333.98 420.00 L333.98 430.00 M333.98 438.00 L333.98 448.00 M333.98 456.00 L333.98 466.00 M333.98 474.00 L333.98 484.00 M333.98 492.00 L333.98 502.00 M333.98 510.00 L333.98 520.00 M333.98 528.00 L333.98 538.00 M333.98 546.00 L333.98 556.00 M333.98 564.00 L333.98 574.00 M333.98 582.00 L333.98 592.00 M333.98 600.00 L333.98 610.00 M333.98 618.00 L333.98 628.00 M333.98 636.00 L333.98 646.00 M333.98 654.00 L333.98 664.00 M333.98 672.00 L333.98 682.00 M333.98 690.00 L333.98 700.00 M359.47 700.00 L359.71 690.00 M359.90 682.00 L360.14 672.00 M360.37 664.00 L360.66 654.00 M360.90 646.00 L361.19 636.00 M361.43 628.00 L361.49 626.08 L361.78 618.00 M362.06 610.00 L362.42 600.00 M362.71 592.00 L362.80 589.48 L363.13 582.00 M363.47 574.00 L363.90 564.00 M364.28 556.00 L364.79 546.00 M365.21 538.00 L365.43 533.67 L365.78 528.00 M366.27 520.00 L366.75 512.21 L366.91 510.00 M367.48 502.00 L368.06 493.97 L368.23 492.00 M368.90 484.00 L369.37 478.35 L369.80 474.00 M370.58 466.00 L370.69 464.88 L371.69 456.00 M372.68 448.00 L373.32 443.02 L374.06 438.00 M375.31 430.00 L375.95 426.19 L377.11 420.00 M378.80 412.00 L379.89 407.35 L381.21 402.31 L381.29 402.00 M383.70 394.00 L383.84 393.57 L385.15 389.76 L386.46 386.24 L387.37 384.00 M390.95 376.00 L391.72 374.41 L393.04 371.85 L394.35 369.40 L395.67 367.04 L396.26 366.00 M400.96 358.00 L402.24 355.84 L403.56 353.60 L404.87 351.32 L406.18 348.97 L406.71 348.00 M410.76 340.00 L411.44 338.55 L412.76 335.56 L414.07 332.36 L414.97 330.00 M417.72 322.00 L418.02 321.09 L419.33 316.62 L420.56 312.00 M422.44 304.00 L423.27 300.13 L424.46 294.00 M425.84 286.00 L425.90 285.63 L427.22 276.93 L427.34 276.00 M428.40 268.00 L428.53 267.02 L429.58 258.00 M430.42 250.00 L431.16 242.63 L431.39 240.00 M432.09 232.00 L432.48 227.49 L432.89 222.00 M433.48 214.00 L433.79 209.84 L434.16 204.00 M434.67 196.00 L435.11 189.10 L435.27 186.00 M435.70 178.00 L436.24 168.00 M436.63 160.00 L437.07 150.00 M437.43 142.00 L437.74 135.29 L437.86 132.00 M438.16 124.00 L438.53 114.00 M438.83 106.00 L439.05 100.08 L439.18 96.00 M439.42 88.00 L439.73 78.00 M439.97 70.00 L440.28 60.00 M440.50 52.00 L440.75 42.00 M440.95 34.00 L441.20 24.00 M441.40 16.00 L441.40 16.00 M466.00 16.00 L466.00 16.00 M466.00 24.00 L466.00 34.00 M466.00 42.00 L466.00 52.00 M466.00 60.00 L466.00 70.00 M466.00 78.00 L466.00 88.00 M466.00 96.00 L466.00 106.00 M466.00 114.00 L466.00 124.00 M466.00 132.00 L466.00 142.00 M466.00 150.00 L466.00 160.00 M466.00 168.00 L466.00 178.00 M466.00 186.00 L466.00 196.00 M466.00 204.00 L466.00 214.00 M466.00 222.00 L466.00 232.00 M466.00 240.00 L466.00 250.00 M466.00 258.00 L466.00 268.00 M466.00 276.00 L466.00 286.00 M466.00 294.00 L466.00 304.00 M466.00 312.00 L466.00 322.00 M466.00 330.00 L466.00 340.00 M466.00 348.00 L466.00 358.00 M466.00 366.00 L466.00 376.00 M466.00 384.00 L466.00 394.00 M466.00 402.00 L466.00 412.00 M466.00 420.00 L466.00 430.00 M466.00 438.00 L466.00 448.00 M466.00 456.00 L466.00 466.00 M466.00 474.00 L466.00 484.00 M466.00 492.00 L466.00 502.00 M466.00 510.00 L466.00 520.00 M466.00 528.00 L466.00 538.00 M466.00 546.00 L466.00 556.00 M466.00 564.00 L466.00 574.00 M466.00 582.00 L466.00 592.00 M466.00 600.00 L466.00 610.00 M466.00 618.00 L466.00 628.00 M466.00 636.00 L466.00 646.00 M466.00 654.00 L466.00 664.00 M466.00 672.00 L466.00 682.00 M466.00 690.00 L466.00 700.00 M490.76 700.00 L491.02 690.00 M491.22 682.00 L491.47 672.00 M491.68 664.00 L491.99 654.00 M492.23 646.00 L492.54 636.00 M492.79 628.00 L492.95 622.73 L493.13 618.00 M493.43 610.00 L493.80 600.00 M494.10 592.00 L494.26 587.67 L494.52 582.00 M494.88 574.00 L495.33 564.00 M495.72 556.00 L496.26 546.00 M496.69 538.00 L496.89 534.19 L497.29 528.00 M497.80 520.00 L498.21 513.64 L498.48 510.00 M499.08 502.00 L499.52 496.18 L499.89 492.00 M500.60 484.00 L500.84 481.25 L501.58 474.00 M502.44 466.00 L503.47 457.31 L503.65 456.00 M504.73 448.00 L504.78 447.66 L506.10 439.23 L506.31 438.00 M507.78 430.00 L508.73 425.32 L509.94 420.00 M512.06 412.00 L512.67 409.88 L513.98 405.81 L515.30 402.16 L515.36 402.00 M518.87 394.00 L519.24 393.23 L520.56 390.80 L521.87 388.60 L523.19 386.59 L524.50 384.76 L525.09 384.00 M528.44 380.13 L529.76 378.83 L531.07 377.64 L532.39 376.53 L533.70 375.51 L535.02 374.57 L536.33 373.69 L537.65 372.88 L538.00 372.67 M546.00 368.85 L546.85 368.53 L548.16 368.05 L549.48 367.61 L550.79 367.19 L552.11 366.80 L553.42 366.43 L554.74 366.08 L556.00 365.77 M564.00 364.11 L565.25 363.90 L566.57 363.69 L567.88 363.49 L569.20 363.29 L570.51 363.11 L571.83 362.94 L573.14 362.77 L574.00 362.67 M582.00 361.83 L582.34 361.80 L583.66 361.69 L584.97 361.58 L586.29 361.47 L587.60 361.37 L588.92 361.27 L590.23 361.18 L591.55 361.09 L592.00 361.06 M600.00 360.59 L600.75 360.55 L602.06 360.48 L603.38 360.42 L604.69 360.36 L606.01 360.30 L607.32 360.24 L608.64 360.19 L609.95 360.14 L610.00 360.13 M618.00 359.85 L619.15 359.81 L620.47 359.77 L621.78 359.73 L623.10 359.69 L624.41 359.66 L625.73 359.62 L627.04 359.59 L628.00 359.56 M636.00 359.38 L636.24 359.37 L637.56 359.35 L638.87 359.32 L640.19 359.29 L641.50 359.27 L642.82 359.24 L644.13 359.22 L645.45 359.20 L646.00 359.19 M654.00 359.06 L654.65 359.05 L655.96 359.03 L657.28 359.02 L658.59 359.00 L659.91 358.98 L661.22 358.96 L662.54 358.95 L663.85 358.93 L664.00 358.93 M672.00 358.84 L673.05 358.83 L674.37 358.82 L675.68 358.80 L677.00 358.79 L678.31 358.78 L679.63 358.77 L680.94 358.76 L682.00 358.75 M690.00 358.68 L690.14 358.68 L691.46 358.67 L692.77 358.66 L694.09 358.65 L695.40 358.64 L696.72 358.63 L698.03 358.62 L699.35 358.62 L700.00 358.61 M708.00 358.56 L708.55 358.56 L709.86 358.55 L711.18 358.54 L712.49 358.54 L713.81 358.53 L715.12 358.52 L716.44 358.52 L717.75 358.51 L718.00 358.51 M726.00 358.47 L726.95 358.47 L728.27 358.46 L729.58 358.46 L730.90 358.45 L732.21 358.44 L733.53 358.44 L734.84 358.43 L736.00 358.43 M744.00 358.40 L744.04 358.40 L745.36 358.40 L746.67 358.39 L747.99 358.39 L749.30 358.38 L750.62 358.38 L751.93 358.37 L753.25 358.37 L754.00 358.37 M762.00 358.34 L762.45 358.34 L763.76 358.34 L765.08 358.34 L766.39 358.33 L767.71 358.33 L769.02 358.33 L770.34 358.32 L771.65 358.32 L772.00 358.32 M780.00 358.30 L780.85 358.30 L782.17 358.29 L783.48 358.29 L784.80 358.29 L786.11 358.29 L787.43 358.28 L788.74 358.28 L790.00 358.28" stroke="#008000"/>
<path d="M138.00 135.99 L139.31 135.11 M140.76 132.00 L141.94 127.97 L142.35 126.00 M143.17 122.00 L143.26 121.58 L144.13 116.00 M144.72 112.00 L145.47 106.00 M145.95 102.00 L146.56 96.00 M146.97 92.00 L147.20 89.75 L147.52 86.00 M147.86 82.00 L148.37 76.00 M148.68 72.00 L149.11 66.00 M149.40 62.00 L149.82 56.00 M150.07 52.00 L150.43 46.00 M150.68 42.00 L151.04 36.00 M151.27 32.00 L151.58 26.00 M151.79 22.00 L152.10 16.00 M255.08 16.00 L255.40 22.00 M255.62 26.00 L255.94 32.00 M256.15 36.00 L256.32 39.05 L256.50 42.00 M256.75 46.00 L257.13 52.00 M257.38 56.00 L257.63 59.96 L257.78 62.00 M258.08 66.00 L258.52 72.00 M258.82 76.00 L258.95 77.72 L259.32 82.00 M259.67 86.00 L260.20 92.00 M260.61 96.00 L261.25 102.00 M261.69 106.00 L262.47 112.00 M263.02 116.00 L264.01 122.00 M264.82 126.00 L265.52 129.17 L266.42 132.00 M268.15 135.60 L269.46 136.13 L270.78 134.90 M272.04 132.00 L272.09 131.88 L273.41 127.03 L273.61 126.00 M274.38 122.00 L274.72 120.26 L275.36 116.00 M275.95 112.00 L276.04 111.45 L276.69 106.00 M277.17 102.00 L277.35 100.45 L277.79 96.00 M278.18 92.00 L278.67 87.06 L278.75 86.00 M279.08 82.00 L279.57 76.00 M279.90 72.00 L279.98 71.03 L280.33 66.00 M280.61 62.00 L281.02 56.00 M281.30 52.00 L281.65 46.00 M281.89 42.00 L282.24 36.00 M282.48 32.00 L282.61 29.78 L282.80 26.00 M283.00 22.00 L283.30 16.00 M386.24 16.00 L386.46 20.79 L386.53 22.00 M386.75 26.00 L387.08 32.00 M387.31 36.00 L387.64 42.00 M387.87 46.00 L388.26 52.00 M388.52 56.00 L388.91 62.00 M389.18 66.00 L389.64 72.00 M389.95 76.00 L390.41 82.00 M390.77 86.00 L391.32 92.00 M391.68 96.00 L391.72 96.48 L392.33 102.00 M392.77 106.00 L393.04 108.45 L393.52 112.00 M394.06 116.00 L394.35 118.15 L395.02 122.00 M395.72 126.00 L396.98 131.41 L397.19 132.00 M398.83 136.00 L399.61 137.17 L400.93 137.39 L402.10 136.00 M403.68 132.00 L404.87 127.31 L405.11 126.00 M405.85 122.00 L406.18 120.19 L406.78 116.00 M407.36 112.00 L407.50 111.00 L408.07 106.00 M408.54 102.00 L408.81 99.58 L409.15 96.00 M409.53 92.00 L410.10 86.00 M410.42 82.00 L410.90 76.00 M411.22 72.00 L411.44 69.19 L411.66 66.00 M411.93 62.00 L412.33 56.00 M412.60 52.00 L412.76 49.64 L412.97 46.00 M413.19 42.00 L413.54 36.00 M413.77 32.00 L414.07 26.69 L414.11 26.00 M414.30 22.00 L414.60 16.00 M515.43 16.00 L515.66 22.00 M515.81 26.00 L516.04 32.00 M516.19 36.00 L516.42 42.00 M516.57 46.00 L516.61 47.00 L516.83 52.00 M517.01 56.00 L517.27 62.00 M517.44 66.00 L517.70 72.00 M517.88 76.00 L517.93 77.17 L518.17 82.00 M518.36 86.00 L518.66 92.00 M518.86 96.00 L519.16 102.00 M519.37 106.00 L519.70 112.00 M519.93 116.00 L520.26 122.00 M520.49 126.00 L520.56 127.25 L520.86 132.00 M521.11 136.00 L521.49 142.00 M521.74 146.00 L521.87 148.08 L522.15 152.00 M522.43 156.00 L522.86 162.00 M523.14 166.00 L523.19 166.61 L523.62 172.00 M523.93 176.00 L524.41 182.00 M524.76 186.00 L525.29 192.00 M525.65 196.00 L525.82 197.89 L526.22 202.00 M526.62 206.00 L527.13 211.12 L527.23 212.00 M527.67 216.00 L528.33 222.00 M528.81 226.00 L529.55 232.00 M530.07 236.00 L530.89 242.00 M531.47 246.00 L532.38 252.00 M533.04 256.00 L533.70 260.00 L534.07 262.00 M534.80 266.00 L535.02 267.17 L535.99 272.00 M536.84 276.00 L537.65 279.65 L538.22 282.00 M539.21 286.00 L540.28 290.04 L540.84 292.00 M542.04 296.00 L542.91 298.76 L544.02 302.00 M545.50 306.00 L545.54 306.10 L546.85 309.35 L548.02 312.00 M549.94 316.00 L550.79 317.65 L552.11 320.02 L553.30 322.00 M555.96 326.00 L556.05 326.14 L557.37 327.90 L558.68 329.53 L560.00 331.06 L560.87 332.00 M566.00 336.83 L566.57 337.31 L567.88 338.33 L569.20 339.28 L570.51 340.18 L571.83 341.03 L572.00 341.13 M576.00 343.39 L577.09 343.94 L578.40 344.57 L579.72 345.16 L581.03 345.72 L582.00 346.11 M586.00 347.57 L586.29 347.66 L587.60 348.09 L588.92 348.49 L590.23 348.87 L591.55 349.23 L592.00 349.35 M596.00 350.33 L596.81 350.51 L598.12 350.79 L599.43 351.06 L600.75 351.32 L602.00 351.55 M606.00 352.22 L606.01 352.23 L607.32 352.43 L608.64 352.62 L609.95 352.81 L611.27 352.98 L612.00 353.08 M616.00 353.56 L616.53 353.62 L617.84 353.76 L619.15 353.89 L620.47 354.02 L621.78 354.15 L622.00 354.17 M626.00 354.52 L627.04 354.60 L628.36 354.71 L629.67 354.80 L630.99 354.90 L632.00 354.97 M636.00 355.23 L636.24 355.24 L637.56 355.32 L638.87 355.40 L640.19 355.47 L641.50 355.54 L642.00 355.57 M646.00 355.76 L646.76 355.80 L648.08 355.86 L649.39 355.91 L650.71 355.97 L652.00 356.02 M656.00 356.17 L657.28 356.22 L658.59 356.26 L659.91 356.30 L661.22 356.35 L662.00 356.37 M666.00 356.49 L666.48 356.50 L667.80 356.54 L669.11 356.57 L670.42 356.60 L671.74 356.64 L672.00 356.64 M676.00 356.74 L677.00 356.76 L678.31 356.79 L679.63 356.81 L680.94 356.84 L682.00 356.86 M686.00 356.93 L686.20 356.94 L687.52 356.96 L688.83 356.98 L690.14 357.00 L691.46 357.03 L692.00 357.03 M696.00 357.09 L696.72 357.10 L698.03 357.12 L699.35 357.14 L700.66 357.16 L701.98 357.17 L702.00 357.17 M706.00 357.22 L707.23 357.24 L708.55 357.25 L709.86 357.27 L711.18 357.28 L712.00 357.29 M716.00 357.33 L716.44 357.33 L717.75 357.35 L719.07 357.36 L720.38 357.37 L721.70 357.38 L722.00 357.38 M726.00 357.42 L726.95 357.43 L728.27 357.44 L729.58 357.45 L730.90 357.46 L732.00 357.46 M736.00 357.49 L736.16 357.49 L737.47 357.50 L738.79 357.51 L740.10 357.52 L741.41 357.53 L742.00 357.53 M746.00 357.55 L746.67 357.56 L747.99 357.56 L749.30 357.57 L750.62 357.58 L751.93 357.59 L752.00 357.59 M756.00 357.61 L757.19 357.61 L758.51 357.62 L759.82 357.62 L761.13 357.63 L762.00 357.63 M766.00 357.65 L766.39 357.65 L767.71 357.66 L769.02 357.66 L770.34 357.67 L771.65 357.67 L772.00 357.67 M776.00 357.69 L776.91 357.69 L778.22 357.70 L779.54 357.70 L780.85 357.71 L782.00 357.71 M786.00 357.72 L786.11 357.72 L787.43 357.73 L788.74 357.73 L790.06 357.73 L791.37 357.74 L792.00 357.74" stroke="#000080"/>
</g>
<rect x="516" y="30" width="264" height="188" fill="rgba(255,255,255,0.667)"/>
<path d="M516 30 H780 V218 H516 Z" fill="none" stroke="rgba(0,0,0,0.4)" stroke-width="2" stroke-linejoin="round"/>
<g fill="none" stroke-width="2" stroke-linecap="round" stroke-linejoin="round">
<path d="M658 56.00 L770 56.00" stroke="#000000"/>
<path d="M658 100.00 L770 100.00" stroke="#800000" stroke-dasharray="2 4"/>
<path d="M658 144.00 L770 144.00" stroke="#008000" stroke-dasharray="10 8"/>
<path d="M658 188.00 L770 188.00" stroke="#000080" stroke-dasharray="6 4"/>
</g>
<g font-family="Liberation Serif, serif" fill="#000000" opacity="0.999">
<text transform="matrix(0.35217 0 0 0.32254 70.32 139.47)" font-size="100">2</text>
<text transform="matrix(0.35614 0 0 0.32296 89.56 139.58)" font-size="100">0</text>
<text transform="matrix(0.35614 0 0 0.32296 108.63 139.58)" font-size="100">0</text>
<text transform="matrix(0.35765 0 0 0.32593 106.46 367.57)" font-size="100">0</text>
<text transform="matrix(0.28914 0 0 0.28779 59.82 594.63)" font-size="100">-</text>
<text transform="matrix(0.35333 0 0 0.32254 70.15 595.57)" font-size="100">2</text>
<text transform="matrix(0.35731 0 0 0.32296 89.45 595.68)" font-size="100">0</text>
<text transform="matrix(0.35731 0 0 0.32296 108.59 595.68)" font-size="100">0</text>
<text transform="matrix(0.28614 0 0 0.29360 190.03 740.85)" font-size="100">-</text>
<text transform="matrix(0.34967 0 0 0.32906 200.25 741.80)" font-size="100">2</text>
<text transform="matrix(0.36000 0 0 0.32519 457.45 741.52)" font-size="100">0</text>
<text transform="matrix(0.36250 0 0 0.33358 719.07 741.90)" font-size="100">2</text>
<text transform="matrix(0.33253 0 0 0.34064 422.57 795.95)" font-size="100">x</text>
<text transform="matrix(0.38524 0 0 0.34371 448.59 796.06)" font-size="100">a</text>
<text transform="matrix(0.33253 0 0 0.34064 466.03 795.95)" font-size="100">x</text>
<text transform="matrix(0.32161 0 0 0.33431 482.96 795.95)" font-size="100">i</text>
<text transform="matrix(0.38343 0 0 0.34371 492.07 796.06)" font-size="100">s</text>
<g transform="rotate(-90)"><text transform="matrix(0.34208 0 0 0.32627 -401.43 33.39)" font-size="100">y</text>
<text transform="matrix(0.38273 0 0 0.33832 -375.02 33.91)" font-size="100">a</text>
<text transform="matrix(0.33037 0 0 0.33529 -357.68 33.80)" font-size="100">x</text>
<text transform="matrix(0.31952 0 0 0.32906 -340.86 33.80)" font-size="100">i</text>
<text transform="matrix(0.38094 0 0 0.33832 -331.82 33.91)" font-size="100">s</text></g>
<text transform="matrix(0.37103 0 0 0.32612 526.09 65.17)" font-size="100">p</text>
<text transform="matrix(0.38447 0 0 0.34307 544.72 65.97)" font-size="100">s</text>
<text transform="matrix(0.32248 0 0 0.33369 560.16 65.86)" font-size="100">i</text>
<text transform="matrix(0.35034 0 0 0.33754 569.80 65.97)" font-size="100">0</text>
<text transform="matrix(0.27750 0 0 0.30326 589.07 64.08)" font-size="100">(</text>
<text transform="matrix(0.33343 0 0 0.34001 599.50 65.86)" font-size="100">x</text>
<text transform="matrix(0.27480 0 0 0.30326 617.26 64.08)" font-size="100">)</text>
<text transform="matrix(0.37103 0 0 0.32612 526.09 109.17)" font-size="100">p</text>
<text transform="matrix(0.38447 0 0 0.34307 544.72 109.97)" font-size="100">s</text>
<text transform="matrix(0.32248 0 0 0.33369 560.16 109.86)" font-size="100">i</text>
<text transform="matrix(0.31157 0 0 0.33837 570.09 109.86)" font-size="100">1</text>
<text transform="matrix(0.27750 0 0 0.30326 589.07 108.08)" font-size="100">(</text>
<text transform="matrix(0.33343 0 0 0.34001 599.50 109.86)" font-size="100">x</text>
<text transform="matrix(0.27480 0 0 0.30326 617.26 108.08)" font-size="100">)</text>
<text transform="matrix(0.37103 0 0 0.32612 526.09 153.17)" font-size="100">p</text>
<text transform="matrix(0.38447 0 0 0.34307 544.72 153.97)" font-size="100">s</text>
<text transform="matrix(0.32248 0 0 0.33369 560.16 153.86)" font-size="100">i</text>
<text transform="matrix(0.34644 0 0 0.33710 569.63 153.86)" font-size="100">2</text>
<text transform="matrix(0.27750 0 0 0.30326 589.07 152.08)" font-size="100">(</text>
<text transform="matrix(0.33343 0 0 0.34001 599.50 153.86)" font-size="100">x</text>
<text transform="matrix(0.27480 0 0 0.30326 617.26 152.08)" font-size="100">)</text>
<text transform="matrix(0.37103 0 0 0.32612 526.09 197.17)" font-size="100">p</text>
<text transform="matrix(0.38447 0 0 0.34307 544.72 197.97)" font-size="100">s</text>
<text transform="matrix(0.32248 0 0 0.33369 560.16 197.86)" font-size="100">i</text>
<text transform="matrix(0.34845 0 0 0.33879 569.76 197.97)" font-size="100">3</text>
<text transform="matrix(0.27750 0 0 0.30326 589.07 196.08)" font-size="100">(</text>
<text transform="matrix(0.33343 0 0 0.34001 599.50 197.86)" font-size="100">x</text>
<text transform="matrix(0.27480 0 0 0.30326 617.26 196.08)" font-size="100">)</text>
</g>
</svg>
</body></html>
